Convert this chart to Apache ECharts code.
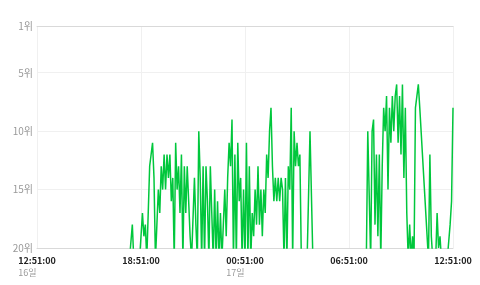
<!DOCTYPE html>
<html>
<head>
<meta charset="utf-8">
<script src="https://cdn.jsdelivr.net/npm/echarts@6/dist/echarts.min.js"></script>
<style>
html,body{margin:0;padding:0;background:#fff;}
#chart{width:480px;height:285px;}
</style>
</head>
<body>
<div id="chart"></div>
<script>
// Axis: 24 hours starting 16일 12:51:00, labels every 6 hours
const axisStart = { day: 16, hour: 12, minute: 51 };
const axisSpanMin = 1440;
const tickStepMin = 360;
const yTicks = [1, 5, 10, 15, 20];
const yMin = 1, yMax = 20;

// Rank samples every 5 minutes, starting 16일 18:11 (null = no sample, 21 = out of top 20)
const rankStartOffsetMin = 320;
const rankStepMin = 5;
const ranks = [
  21,21,18,21,21,21,21,21,21,17,
  19,18,21,21,13,12,11,14,21,18,
  15,17,13,15,12,15,12,14,12,16,
  14,21,11,15,13,17,12,21,13,17,
  13,16,19,21,21,14,18,21,10,14,
  21,13,21,13,16,21,13,17,21,15,
  21,16,21,17,21,18,15,19,14,11,
  13,9,21,12,21,11,16,14,21,15,
  21,11,21,13,21,17,19,15,18,13,
  18,15,19,15,17,12,14,10,8,13,
  16,14,16,14,16,14,15,21,14,21,
  13,15,8,21,10,13,11,13,12,21,
  21,21,21,21,21,10,10,21,
  null,null,null,null,null,null,null,null,null,null,null,null,
  null,null,null,null,null,null,null,null,null,null,null,null,
  null,null,null,null,null,null,null,null,null,null,null,null,
  21,10,10,21,10,9,18,12,19,12,
  21,13,8,10,7,15,8,11,7,10,
  7,6,11,7,12,6,14,8,17,21,
  18,21,19,21,8,7,6,8,
  null,null,null,null,null,
  21,12,19,21,21,21,17,20,19,21,
  21,21,21,21,21,18,16,8
];

const seriesData = ranks.map((r, k) => [rankStartOffsetMin + k * rankStepMin, r]);

function labelFor(value) {
  const total = axisStart.hour * 60 + axisStart.minute + value;
  const day = axisStart.day + Math.floor(total / 1440);
  const m = total % 1440;
  const hh = String(Math.floor(m / 60)).padStart(2, '0');
  const mm = String(m % 60).padStart(2, '0');
  return { day, text: hh + ':' + mm + ':00' };
}

const chart = echarts.init(document.getElementById('chart'), null, { renderer: 'canvas' });
chart.setOption({
  animation: false,
  backgroundColor: '#ffffff',
  textStyle: { fontFamily: '"Noto Sans CJK KR", "Noto Sans", sans-serif' },
  grid: { left: 37, right: 27, top: 26, bottom: 37, containLabel: false, outerBoundsMode: 'none' },
  xAxis: [{
    type: 'value',
    min: 0, max: axisSpanMin, interval: tickStepMin,
    axisLine: { show: true, onZero: false, lineStyle: { color: '#d9d9d9', width: 1 } },
    axisTick: { show: false },
    splitLine: { show: true, lineStyle: { color: '#f0f0f0', width: 1 } },
    axisLabel: {
      margin: 7,
      formatter: function (value, index) {
        const cur = labelFor(value);
        const showDay = value === 0 || labelFor(value - tickStepMin).day !== cur.day;
        return '{t|' + cur.text + '}' + (showDay ? '\n{d|' + cur.day + '일}' : '\n{d| }');
      },
      rich: {
        t: { fontSize: 9, color: '#222', fontWeight: 'bold', lineHeight: 12, fontFamily: '"Noto Sans CJK KR", sans-serif' },
        d: { fontSize: 9, color: '#9a9a9a', lineHeight: 12, align: 'left', fontFamily: '"Noto Sans CJK KR", sans-serif' }
      }
    }
  }, {
    type: 'value', position: 'top',
    min: 0, max: axisSpanMin,
    axisLine: { show: true, onZero: false, lineStyle: { color: '#d9d9d9', width: 1 } },
    axisTick: { show: false }, axisLabel: { show: false }, splitLine: { show: false }
  }],
  yAxis: {
    type: 'value', inverse: true, min: yMin, max: yMax, interval: 5,
    axisLine: { show: false },
    axisTick: { show: false, customValues: yTicks },
    splitLine: { show: true, lineStyle: { color: '#f0f0f0', width: 1 } },
    axisLabel: {
      margin: 4, fontSize: 10, color: '#999',
      customValues: yTicks,
      formatter: v => v + '위'
    }
  },
  series: [{
    type: 'line',
    data: seriesData,
    showSymbol: false,
    symbol: 'none',
    connectNulls: true,
    clip: true,
    lineStyle: { color: '#00c73c', width: 1.5 },
    itemStyle: { color: '#00c73c' }
  }]
});
</script>
</body>
</html>
